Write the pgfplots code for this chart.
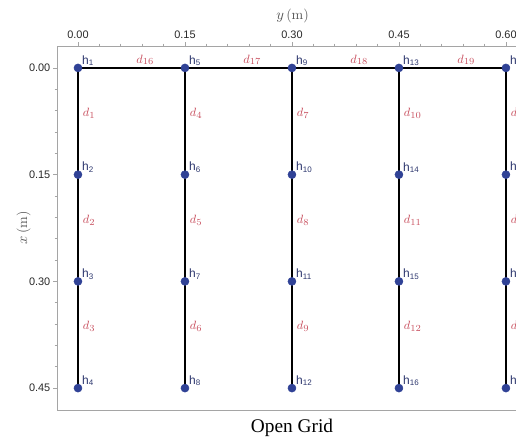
\documentclass[border=0pt]{standalone}
\usepackage{pgfplots}
\pgfplotsset{compat=1.18}
\usepackage{fontspec}
\setsansfont{Liberation Sans}
\newfontfamily\capfont{Liberation Serif}
\definecolor{nodeblue}{RGB}{48,66,150}
\definecolor{lblblue}{RGB}{45,55,110}
\definecolor{dred}{RGB}{200,80,95}
\definecolor{axgray}{RGB}{165,165,165}
\definecolor{tickgray}{RGB}{40,40,40}
\definecolor{labgray}{RGB}{85,85,85}
\newcommand{\hl}[1]{h\textsubscript{#1}}
\begin{document}
\begin{tikzpicture}
\useasboundingbox (0,0) rectangle (387pt,-329.25pt);
\clip (0,0) rectangle (387pt,-329.25pt);
\begin{axis}[
  at={(42.75pt,-34.5pt)}, anchor=north west,
  scale only axis, width=368.8pt, height=273pt,
  y dir=reverse,
  xmin=-0.0294, xmax=0.66, ymin=-0.0308, ymax=0.4808,
  xtick={0,0.15,0.3,0.45,0.6}, ytick={0,0.15,0.3,0.45},
  minor tick num=4,
  xtick pos=right, xticklabel pos=right, ytick pos=left,
  tick align=outside,
  major tick length=3pt, minor tick length=1.8pt,
  axis line style={axgray, line width=0.6pt},
  tick style={axgray, line width=0.5pt},
  /pgf/number format/assume math mode=true,
  ticklabel style={font=\sffamily\fontsize{8.2}{9}\selectfont, text=tickgray},
  xticklabel style={yshift=-1pt, /pgf/number format/.cd, fixed, fixed zerofill, precision=2},
  yticklabel style={xshift=1.5pt, /pgf/number format/.cd, fixed, fixed zerofill, precision=2},
  xlabel={$y$\,(m)}, ylabel={$x$\,(m)},
  label style={font=\fontsize{10.5}{11}\selectfont, text=labgray},
  xlabel style={at={(ticklabel cs:0.479)}, yshift=-1pt},
  ylabel style={yshift=-8pt},
  clip=false,
]
\addplot[black, line width=2pt] coordinates {(0,0) (0.6,0)};
\addplot[black, line width=2pt] coordinates {(0,0) (0,0.45)};
\addplot[black, line width=2pt] coordinates {(0.15,0) (0.15,0.45)};
\addplot[black, line width=2pt] coordinates {(0.3,0) (0.3,0.45)};
\addplot[black, line width=2pt] coordinates {(0.45,0) (0.45,0.45)};
\addplot[black, line width=2pt] coordinates {(0.6,0) (0.6,0.45)};
\addplot[only marks, mark=*, mark size=3pt, color=nodeblue,
  nodes near coords, point meta=explicit symbolic,
  every node near coord/.style={anchor=south west, inner sep=0pt, xshift=3pt, yshift=1.5pt,
    font=\sffamily\fontsize{9}{10}\selectfont, text=lblblue}]
coordinates {
(0,0) [\hl{1}] (0,0.15) [\hl{2}] (0,0.3) [\hl{3}] (0,0.45) [\hl{4}]
(0.15,0) [\hl{5}] (0.15,0.15) [\hl{6}] (0.15,0.3) [\hl{7}] (0.15,0.45) [\hl{8}]
(0.3,0) [\hl{9}] (0.3,0.15) [\hl{10}] (0.3,0.3) [\hl{11}] (0.3,0.45) [\hl{12}]
(0.45,0) [\hl{13}] (0.45,0.15) [\hl{14}] (0.45,0.3) [\hl{15}] (0.45,0.45) [\hl{16}]
(0.6,0) [\hl{17}] (0.6,0.15) [\hl{18}] (0.6,0.3) [\hl{19}] (0.6,0.45) [\hl{20}]
};
\addplot[draw=none, mark=none,
  nodes near coords, point meta=explicit symbolic,
  every node near coord/.style={anchor=south west, inner sep=0pt, xshift=3.5pt, yshift=2pt,
    font=\fontsize{9.5}{10}\selectfont, text=dred}]
coordinates {
(0,0.075) [$d_{1}$] (0,0.225) [$d_{2}$] (0,0.375) [$d_{3}$]
(0.15,0.075) [$d_{4}$] (0.15,0.225) [$d_{5}$] (0.15,0.375) [$d_{6}$]
(0.3,0.075) [$d_{7}$] (0.3,0.225) [$d_{8}$] (0.3,0.375) [$d_{9}$]
(0.45,0.075) [$d_{10}$] (0.45,0.225) [$d_{11}$] (0.45,0.375) [$d_{12}$]
(0.6,0.075) [$d_{13}$] (0.6,0.225) [$d_{14}$] (0.6,0.375) [$d_{15}$]
(0.075,0) [$d_{16}$] (0.225,0) [$d_{17}$] (0.375,0) [$d_{18}$] (0.525,0) [$d_{19}$]
};
\end{axis}
\node[font=\capfont\fontsize{14.5}{16}\selectfont] at (219pt,-321pt) {Open Grid};
\end{tikzpicture}
\end{document}
